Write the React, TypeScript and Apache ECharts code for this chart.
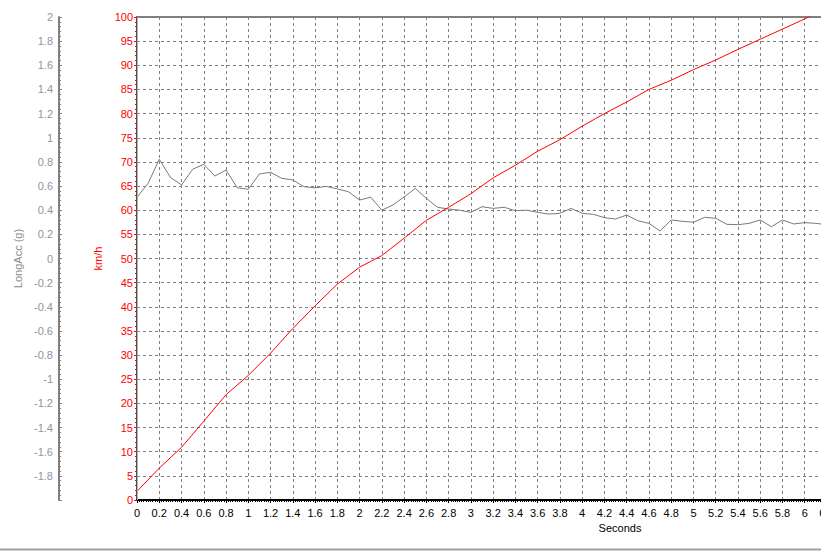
import React, { useEffect, useRef } from "react";
import * as echarts from "echarts";

const speedTime = [0, 0.2, 0.4, 0.6, 0.8, 1.0, 1.2, 1.4, 1.6, 1.8, 2.0, 2.1, 2.2, 2.4, 2.6, 2.8, 3.0, 3.2, 3.4, 3.6, 3.8, 4.0, 4.2, 4.4, 4.6, 4.8, 5.0, 5.2, 5.4, 5.6, 5.8, 6.0, 6.2];
const speedKmh = [1.8, 6.6, 10.9, 16.3, 21.8, 25.8, 30.4, 35.5, 40.2, 44.7, 48.2, 49.4, 50.6, 54.2, 57.9, 60.6, 63.4, 66.7, 69.3, 72.2, 74.6, 77.4, 80.0, 82.4, 85.0, 86.9, 89.1, 91.1, 93.3, 95.4, 97.5, 99.6, 102.0];

const accTime = [0, 0.1, 0.2, 0.3, 0.4, 0.5, 0.6, 0.7, 0.8, 0.9, 1.0, 1.1, 1.2, 1.3, 1.4, 1.5, 1.6, 1.7, 1.8, 1.9, 2.0, 2.1, 2.2, 2.3, 2.4, 2.5, 2.6, 2.7, 2.8, 2.9, 3.0, 3.1, 3.2, 3.3, 3.4, 3.5, 3.6, 3.7, 3.8, 3.9, 4.0, 4.1, 4.2, 4.3, 4.4, 4.5, 4.6, 4.7, 4.8, 4.9, 5.0, 5.1, 5.2, 5.3, 5.4, 5.5, 5.6, 5.7, 5.8, 5.9, 6.0, 6.1, 6.2];
const accG = [0.507, 0.623, 0.822, 0.672, 0.609, 0.739, 0.78, 0.683, 0.733, 0.586, 0.573, 0.70, 0.714, 0.664, 0.65, 0.595, 0.585, 0.597, 0.576, 0.553, 0.484, 0.508, 0.40, 0.443, 0.51, 0.58, 0.498, 0.424, 0.41, 0.40, 0.382, 0.429, 0.415, 0.424, 0.396, 0.40, 0.382, 0.368, 0.374, 0.415, 0.374, 0.366, 0.338, 0.327, 0.36, 0.313, 0.291, 0.228, 0.319, 0.308, 0.30, 0.341, 0.333, 0.283, 0.28, 0.291, 0.319, 0.263, 0.319, 0.286, 0.297, 0.291, 0.28];

const FONT = "Liberation Sans";

export default function App() {
  const ref = useRef<HTMLDivElement>(null);
  useEffect(() => {
    if (!ref.current) return;
    const chart = echarts.init(ref.current, null, { renderer: "svg" });
    const dash = { color: "#808080", type: [3, 3] as any, width: 1 };
    chart.setOption({
      animation: false,
      backgroundColor: "#ffffff",
      grid: {
        left: 137, right: 0, top: 17, bottom: 52,
        outerBoundsMode: "none", containLabel: false,
        show: true, borderColor: "#000", borderWidth: 1, backgroundColor: "transparent",
      },
      xAxis: {
        type: "value",
        min: 0,
        max: 6.2,
        interval: 0.2,
        name: "Seconds",
        nameLocation: "middle",
        nameGap: 22,
        nameTextStyle: { color: "#000", fontFamily: FONT, fontSize: 11, padding: [0, 0, 0, 276] },
        axisLine: { show: true, onZero: false, lineStyle: { color: "#000", width: 2 } },
        axisTick: { show: true, length: 3, lineStyle: { color: "#000" } },
        minorTick: { show: true, splitNumber: 10, length: 2, lineStyle: { color: "#000" } },
        axisLabel: { color: "#000", fontFamily: FONT, fontSize: 11, margin: 7, hideOverlap: false },
        splitLine: { show: true, lineStyle: dash },
      },
      yAxis: [
        {
          type: "value",
          position: "left",
          min: 0,
          max: 100,
          interval: 5,
          name: "km/h",
          nameLocation: "middle",
          nameGap: 32,
          nameTextStyle: { color: "#ff0000", fontFamily: FONT, fontSize: 11 },
          axisLine: { show: true, onZero: false, lineStyle: { color: "#ff0000", width: 2 } },
          axisTick: { show: true, length: 3, lineStyle: { color: "#ff0000" } },
          minorTick: { show: true, splitNumber: 5, length: 2, lineStyle: { color: "#ff0000" } },
          axisLabel: { color: "#ff0000", fontFamily: FONT, fontSize: 11, margin: 4 },
          splitLine: { show: true, lineStyle: dash },
        },
        {
          type: "value",
          position: "left",
          offset: 78,
          min: -2,
          max: 2,
          interval: 0.2,
          name: "LongAcc (g)",
          nameLocation: "middle",
          nameGap: 35,
          nameTextStyle: { color: "#8c8c8c", fontFamily: FONT, fontSize: 11 },
          axisLine: { show: true, onZero: false, lineStyle: { color: "#808080", width: 2 } },
          axisTick: { show: true, inside: true, length: 3, lineStyle: { color: "#808080" } },
          minorTick: { show: true, splitNumber: 5, length: 2, lineStyle: { color: "#808080" } },
          axisLabel: { color: "#8c96a2", fontFamily: FONT, fontSize: 11, margin: 6, showMinLabel: false },
          splitLine: { show: false },
        },
      ],
      series: [
        {
          type: "line",
          name: "LongAcc",
          yAxisIndex: 1,
          data: accTime.map((t, i) => [t, accG[i]]),
          showSymbol: false,
          symbol: "none",
          lineStyle: { color: "#7a7a7a", width: 1 },
          z: 3,
        },
        {
          type: "line",
          name: "Speed",
          yAxisIndex: 0,
          data: speedTime.map((t, i) => [t, speedKmh[i]]),
          showSymbol: false,
          symbol: "none",
          clip: true,
          lineStyle: { color: "#ff0000", width: 1 },
          z: 4,
        },
      ],
      graphic: [
        { type: "line", z: 100, shape: { x1: 137.5, y1: 17, x2: 137.5, y2: 500 }, style: { stroke: "#00ffff", lineWidth: 1 } },
        { type: "line", z: 100, shape: { x1: 0, y1: 549.5, x2: 827, y2: 549.5 }, style: { stroke: "#a0a0a0", lineWidth: 2 } },
      ],
    });
    return () => chart.dispose();
  }, []);
  return <div ref={ref} style={{ position: "fixed", left: 0, top: 0, width: 827, height: 552 }} />;
}
